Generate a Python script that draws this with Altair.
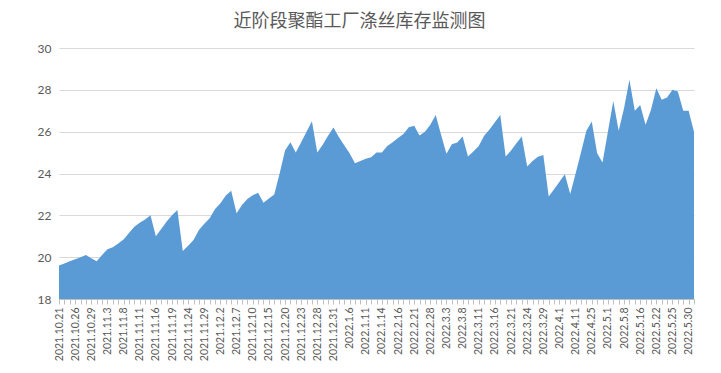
import altair as alt
import pandas as pd

title_text = "近阶段聚酯工厂涤丝库存监测图"

# every category date (labels shown on every third one)
dates = [
    "2021.10.21", "2021.10.22", "2021.10.25", "2021.10.26", "2021.10.27", "2021.10.28",
    "2021.10.29", "2021.11.1", "2021.11.2", "2021.11.3", "2021.11.4", "2021.11.5",
    "2021.11.8", "2021.11.9", "2021.11.10", "2021.11.11", "2021.11.12", "2021.11.15",
    "2021.11.16", "2021.11.17", "2021.11.18", "2021.11.19", "2021.11.22", "2021.11.23",
    "2021.11.24", "2021.11.25", "2021.11.26", "2021.11.29", "2021.11.30", "2021.12.1",
    "2021.12.2", "2021.12.3", "2021.12.6", "2021.12.7", "2021.12.8", "2021.12.9",
    "2021.12.10", "2021.12.13", "2021.12.14", "2021.12.15", "2021.12.16", "2021.12.17",
    "2021.12.20", "2021.12.21", "2021.12.22", "2021.12.23", "2021.12.24", "2021.12.27",
    "2021.12.28", "2021.12.29", "2021.12.30", "2021.12.31", "2022.1.4", "2022.1.5",
    "2022.1.6", "2022.1.7", "2022.1.10", "2022.1.11", "2022.1.12", "2022.1.13",
    "2022.1.14", "2022.1.17", "2022.2.15", "2022.2.16", "2022.2.17", "2022.2.18",
    "2022.2.21", "2022.2.22", "2022.2.24", "2022.2.28", "2022.3.1", "2022.3.2",
    "2022.3.3", "2022.3.4", "2022.3.7", "2022.3.8", "2022.3.9", "2022.3.10",
    "2022.3.11", "2022.3.14", "2022.3.15", "2022.3.16", "2022.3.17", "2022.3.18",
    "2022.3.21", "2022.3.22", "2022.3.23", "2022.3.24", "2022.3.25", "2022.3.28",
    "2022.3.29", "2022.3.30", "2022.3.31", "2022.4.1", "2022.4.6", "2022.4.8",
    "2022.4.11", "2022.4.15", "2022.4.20", "2022.4.25", "2022.4.27", "2022.4.29",
    "2022.5.1", "2022.5.5", "2022.5.6", "2022.5.8", "2022.5.10", "2022.5.13",
    "2022.5.16", "2022.5.18", "2022.5.20", "2022.5.22", "2022.5.23", "2022.5.24",
    "2022.5.25", "2022.5.26", "2022.5.27", "2022.5.30", "2022.5.31",
]

# inventory (days)
values = [
    19.6, 19.7, 19.8, 19.9, 20.0, 20.1, 19.95, 19.8, 20.1, 20.38,
    20.47, 20.65, 20.85, 21.15, 21.46, 21.65, 21.8, 22.0, 21.0, 21.35,
    21.7, 22.0, 22.26, 20.3, 20.55, 20.82, 21.3, 21.6, 21.86, 22.3,
    22.58, 22.95, 23.17, 22.1, 22.5, 22.78, 22.96, 23.08, 22.6, 22.8,
    23.0, 24.0, 25.1, 25.5, 25.0, 25.5, 26.0, 26.5, 25.0, 25.37,
    25.8, 26.2, 25.74, 25.35, 24.97, 24.49, 24.6, 24.7, 24.78, 25.0,
    25.0, 25.32, 25.5, 25.7, 25.89, 26.21, 26.28, 25.82, 26.0, 26.33,
    26.8, 25.85, 24.94, 25.4, 25.48, 25.77, 24.81, 25.05, 25.32, 25.8,
    26.1, 26.45, 26.8, 24.81, 25.1, 25.45, 25.77, 24.33, 24.6, 24.8,
    24.89, 22.9, 23.25, 23.6, 23.97, 23.02, 24.0, 25.0, 26.04, 26.49,
    24.97, 24.52, 26.0, 27.47, 26.04, 27.12, 28.48, 27.0, 27.28, 26.33,
    27.04, 28.08, 27.52, 27.63, 28.0, 27.92, 27.0, 27.0, 26.0,
]

shown_labels = dates[::3]
y_ticks = [18, 20, 22, 24, 26, 28, 30]

df = pd.DataFrame({"date": dates, "value": values})

label_list = "[" + ",".join("'" + s + "'" for s in shown_labels) + "]"

chart = alt.Chart(df).mark_area(color="#5b9bd5", opacity=1).encode(
    x=alt.X(
        "date:N",
        sort=dates,
        scale=alt.Scale(padding=0),
        axis=alt.Axis(
            title=None,
            labelAngle=-90,
            labelExpr="indexof(" + label_list + ", datum.value) >= 0 ? datum.value : ''",
            labelOverlap=False,
            labelFont="Lato",
            labelFontSize=10.5,
            labelColor="#595959",
            labelPadding=3,
            domainColor="#bfbfbf",
            tickColor="#bfbfbf",
            tickSize=5,
            grid=False,
        ),
    ),
    y=alt.Y(
        "value:Q",
        stack=None,
        scale=alt.Scale(domain=[18, 30], zero=False, nice=False),
        axis=alt.Axis(
            title=None,
            values=y_ticks,
            labelFont="Lato",
            labelFontSize=12,
            labelColor="#595959",
            labelPadding=8,
            domain=False,
            ticks=False,
            gridColor="#d9d9d9",
        ),
    ),
    y2=alt.datum(18),
).properties(
    width=635,
    height=251,
    title=alt.TitleParams(
        title_text,
        font="Noto Sans CJK SC",
        fontSize=18,
        fontWeight="normal",
        color="#595959",
        offset=11,
        dx=-17,
        anchor="middle",
    ),
    autosize=alt.AutoSizeParams(type="none"),
    padding={"left": 51, "top": 40, "right": 19, "bottom": 70},
).configure_view(strokeWidth=0)

chart.save("out.html", embed_options={"renderer": "svg", "actions": False})
